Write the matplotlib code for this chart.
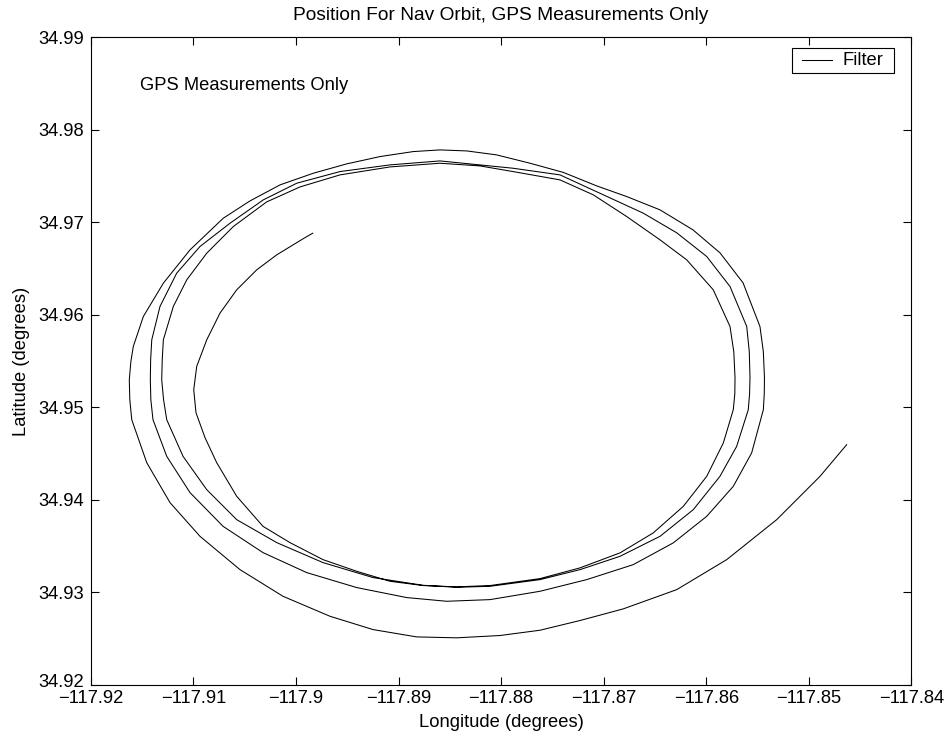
import matplotlib
matplotlib.use('Agg')
import matplotlib.pyplot as plt
import matplotlib.transforms as mtransforms
from matplotlib.patches import Rectangle
from matplotlib.lines import Line2D

plt.rc('font', family='Liberation Sans')

# filter position estimates
lon = [-117.89836, -117.89931, -117.90187, -117.90382, -117.90577, -117.90740,
       -117.90869, -117.90967, -117.90996, -117.90974, -117.90886, -117.90772,
       -117.90577, -117.90321, -117.90058, -117.89736, -117.89407, -117.89083,
       -117.88761, -117.88433, -117.88108, -117.87621, -117.87231, -117.86841,
       -117.86517, -117.86224, -117.85996, -117.85834, -117.85737, -117.85722,
       -117.85720, -117.85732,
       -117.85769, -117.85932, -117.86191, -117.86451, -117.86776, -117.87101,
       -117.87426, -117.87884, -117.88206, -117.88596, -117.89083, -117.89570,
       -117.89960, -117.90285, -117.90610, -117.90869, -117.91064, -117.91195,
       -117.91292, -117.91303, -117.91308, -117.91290,
       -117.91259, -117.91100, -117.90869, -117.90577,
       -117.90187, -117.89736, -117.89248, -117.88761, -117.88433, -117.88108,
       -117.87621, -117.87231, -117.86841, -117.86451, -117.86127, -117.85867,
       -117.85704, -117.85591, -117.85578, -117.85574, -117.85581,
       -117.85606, -117.85769, -117.85996,
       -117.86288, -117.86614, -117.86939, -117.87426, -117.87884, -117.88596,
       -117.89083, -117.89570, -117.89992, -117.90318, -117.90642, -117.90935,
       -117.91162, -117.91325, -117.91405, -117.91416, -117.91419, -117.91414,
       -117.91393, -117.91259,
       -117.91032, -117.90710, -117.90321, -117.89895, -117.89407, -117.88920,
       -117.88530, -117.88108, -117.87621, -117.87166, -117.86712, -117.86322,
       -117.85996, -117.85737, -117.85558, -117.85444, -117.85435,
       -117.85433, -117.85444, -117.85477,
       -117.85642, -117.85867, -117.86130, -117.86451, -117.86776, -117.87068,
       -117.87394, -117.87718, -117.88043, -117.88335, -117.88596, -117.88856,
       -117.89180, -117.89505, -117.89830, -117.90155, -117.90447, -117.90708,
       -117.91032, -117.91292, -117.91487, -117.91585, -117.91609,
       -117.91624, -117.91619, -117.91600,
       -117.91454, -117.91227, -117.90935, -117.90545, -117.90126, -117.89668,
       -117.89248, -117.88823, -117.88433, -117.88011, -117.87621, -117.87231,
       -117.86809, -117.86288, -117.85801, -117.85314, -117.84892, -117.84632]

lat = [34.96883, 34.96822, 34.96649, 34.96487, 34.96271, 34.96019,
       34.95731, 34.95443, 34.95191, 34.94943, 34.94673, 34.94403,
       34.94039, 34.93715, 34.93539, 34.93355, 34.93229, 34.93121,
       34.93075, 34.93061, 34.93075, 34.93150, 34.93266, 34.93428,
       34.93644, 34.93931, 34.94255, 34.94616, 34.94975, 34.95148,
       34.95321, 34.95602,
       34.95875, 34.96271, 34.96595, 34.96811, 34.97063, 34.97297,
       34.97459, 34.97549, 34.97610, 34.97639, 34.97599, 34.97513,
       34.97383, 34.97221, 34.96955, 34.96667, 34.96379, 34.96091,
       34.95731, 34.95515, 34.95299, 34.95083,
       34.94867, 34.94471, 34.94111, 34.93787,
       34.93539, 34.93323, 34.93161, 34.93078, 34.93056, 34.93067,
       34.93139, 34.93247, 34.93391, 34.93607, 34.93895, 34.94255,
       34.94579, 34.94975, 34.95148, 34.95321, 34.95602,
       34.95875, 34.96307, 34.96631,
       34.96887, 34.97099, 34.97265, 34.97513, 34.97585, 34.97664,
       34.97621, 34.97549, 34.97423, 34.97243, 34.96991, 34.96739,
       34.96451, 34.96091, 34.95731, 34.95515, 34.95299, 34.95083,
       34.94867, 34.94471,
       34.94079, 34.93715, 34.93431, 34.93215, 34.93053, 34.92945,
       34.92905, 34.92923, 34.93013, 34.93139, 34.93301, 34.93536,
       34.93823, 34.94147, 34.94508, 34.94975, 34.95148,
       34.95321, 34.95602, 34.95875,
       34.96347, 34.96671, 34.96919, 34.97135, 34.97279, 34.97394,
       34.97540, 34.97639, 34.97729, 34.97772, 34.97783, 34.97765,
       34.97711, 34.97632, 34.97531, 34.97405, 34.97232, 34.97045,
       34.96703, 34.96343, 34.95983, 34.95659, 34.95493,
       34.95299, 34.95083, 34.94867,
       34.94403, 34.93971, 34.93607, 34.93247, 34.92959, 34.92743,
       34.92599, 34.92520, 34.92510, 34.92535, 34.92592, 34.92697,
       34.92823, 34.93031, 34.93355, 34.93787, 34.94255, 34.94597]

xticks = [-117.92, -117.91, -117.90, -117.89, -117.88, -117.87, -117.86, -117.85, -117.84]
xlabels = ['\u2212117.92', '\u2212117.91', '\u2212117.9', '\u2212117.89', '\u2212117.88',
           '\u2212117.87', '\u2212117.86', '\u2212117.85', '\u2212117.84']
yticks = [34.92, 34.93, 34.94, 34.95, 34.96, 34.97, 34.98, 34.99]
ylabels = ['34.92', '34.93', '34.94', '34.95', '34.96', '34.97', '34.98', '34.99']
series_name = 'Filter'

fs = 13.2

fig = plt.figure(figsize=(9.47, 7.40), dpi=100)
ax = fig.add_axes([0.0958, 0.0743, 0.8667, 0.8753])

track, = ax.plot(lon, lat, color='black', linewidth=0.75, label=series_name)

ax.set_xlim(-117.92, -117.84)
ax.set_ylim(34.92, 34.99)
ax.set_xticks(xticks)
ax.set_xticklabels(xlabels)
ax.set_yticks(yticks)
ax.set_yticklabels(ylabels)
ax.tick_params(direction='in', top=True, right=True, length=6, width=0.8, labelsize=fs)
ax.tick_params(axis='x', pad=3.5)
ax.tick_params(axis='y', pad=5)
for s in ax.spines.values():
    s.set_linewidth(0.8)

# lift the lowest y label a little so it clears the first x label
lowest = ax.get_yticklabels()[0]
lowest.set_transform(lowest.get_transform() +
                     mtransforms.ScaledTranslation(0, 5 / 100, fig.dpi_scale_trans))

ax.set_title('Position For Nav Orbit, GPS Measurements Only', fontsize=13.8, pad=12.5)
ax.set_xlabel('Longitude (degrees)', fontsize=fs, labelpad=5)
ax.set_ylabel('Latitude (degrees)', fontsize=fs, labelpad=6)

ax.text(-117.9152, 34.9848, 'GPS Measurements Only', fontsize=fs, va='center', ha='left')

# matlab-style legend box, drawn by hand so the padding matches
ax.add_patch(Rectangle((0.8544, 0.9449), 0.1243, 0.0386, transform=ax.transAxes,
                       facecolor='white', edgecolor='black', linewidth=0.8, zorder=5))
ax.add_line(Line2D([0.8666, 0.9032], [0.9642, 0.9642], transform=ax.transAxes,
                   color=track.get_color(), linewidth=0.75, zorder=6))
ax.text(0.9165, 0.9642, track.get_label(), transform=ax.transAxes, fontsize=fs,
        va='center', ha='left', zorder=6)

fig.savefig('out.png', dpi=100)
